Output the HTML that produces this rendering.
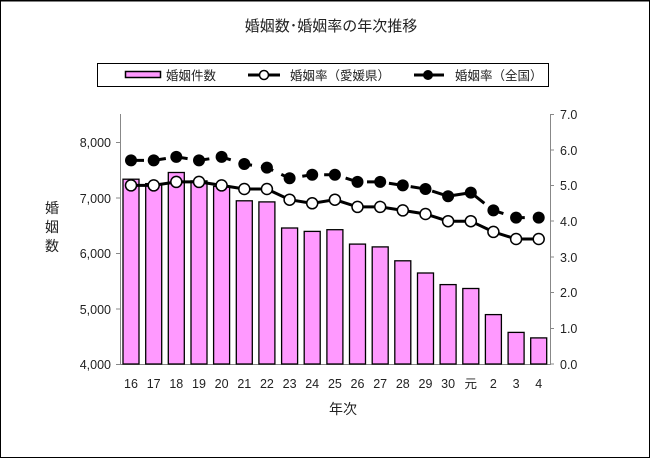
<!DOCTYPE html>
<html><head><meta charset="utf-8"><style>
html,body{margin:0;padding:0;background:#fff}
svg{display:block}
text{font-family:"Liberation Sans","Noto Sans CJK JP",sans-serif;fill:#222}
</style></head><body>
<svg width="650" height="458" viewBox="0 0 650 458" xmlns="http://www.w3.org/2000/svg">
<rect x="0.5" y="0.5" width="649" height="457" fill="#fff" stroke="#000" stroke-width="1"/>
<line x1="0" y1="0.5" x2="650" y2="0.5" stroke="#000" stroke-width="2"/>
<text x="331" y="31" font-size="15" text-anchor="middle">婚姻数･婚姻率の年次推移</text>
<!-- legend -->
<rect x="97.5" y="63.5" width="451" height="23" fill="#fff" stroke="#000"/>
<rect x="125.5" y="71.5" width="35" height="6" fill="#ff99ff" stroke="#000" stroke-width="1.5"/>
<text x="166" y="80" font-size="12.5">婚姻件数</text>
<line x1="248" y1="75" x2="280" y2="75" stroke="#000" stroke-width="3"/>
<circle cx="264" cy="75" r="4.5" fill="#fff" stroke="#000" stroke-width="1.5"/>
<text x="290" y="80" font-size="12.5">婚姻率（愛媛県）</text>
<line x1="414" y1="75" x2="424" y2="75" stroke="#000" stroke-width="3"/>
<line x1="432" y1="75" x2="444" y2="75" stroke="#000" stroke-width="3"/>
<circle cx="428" cy="75" r="5" fill="#000"/>
<text x="455" y="80" font-size="12.5">婚姻率（全国）</text>
<!-- axes -->
<line x1="120.5" y1="114" x2="120.5" y2="364.5" stroke="#888"/>
<line x1="550.5" y1="114" x2="550.5" y2="364.5" stroke="#888"/>
<line x1="120" y1="364.5" x2="551" y2="364.5" stroke="#888"/>
<g stroke="#888">
<line x1="116" y1="142.5" x2="120" y2="142.5"/><line x1="116" y1="198" x2="120" y2="198"/><line x1="116" y1="253.5" x2="120" y2="253.5"/><line x1="116" y1="309" x2="120" y2="309"/><line x1="116" y1="364.5" x2="120" y2="364.5"/>
<line x1="550" y1="114.5" x2="554" y2="114.5"/><line x1="550" y1="150" x2="554" y2="150"/><line x1="550" y1="185.5" x2="554" y2="185.5"/><line x1="550" y1="221" x2="554" y2="221"/><line x1="550" y1="257" x2="554" y2="257"/><line x1="550" y1="292.5" x2="554" y2="292.5"/><line x1="550" y1="328.5" x2="554" y2="328.5"/><line x1="550" y1="364" x2="554" y2="364"/>
</g>
<g font-size="12.5" text-anchor="end">
<text x="111" y="147">8,000</text><text x="111" y="203">7,000</text><text x="111" y="258">6,000</text><text x="111" y="314">5,000</text><text x="111" y="369">4,000</text>
</g>
<g font-size="12.5">
<text x="560" y="119">7.0</text><text x="560" y="155">6.0</text><text x="560" y="190">5.0</text><text x="560" y="226">4.0</text><text x="560" y="262">3.0</text><text x="560" y="297">2.0</text><text x="560" y="333">1.0</text><text x="560" y="369">0.0</text>
</g>
<g font-size="14" text-anchor="middle">
<text x="52" y="213">婚</text><text x="52" y="232">姻</text><text x="52" y="251">数</text>
<text x="343" y="414">年次</text>
</g>
<!-- bars -->
<g fill="#ff99ff" stroke="#000" stroke-width="1.3">
<rect x="123" y="179.2" width="16" height="184.8"/>
<rect x="145.7" y="183.6" width="16" height="180.4"/>
<rect x="168.3" y="172.5" width="16" height="191.5"/>
<rect x="191" y="180.9" width="16" height="183.1"/>
<rect x="213.6" y="186.4" width="16" height="177.6"/>
<rect x="236.3" y="200.8" width="16" height="163.2"/>
<rect x="258.9" y="201.9" width="16" height="162.1"/>
<rect x="281.6" y="228" width="16" height="136"/>
<rect x="304.2" y="231.4" width="16" height="132.6"/>
<rect x="326.9" y="229.7" width="16" height="134.3"/>
<rect x="349.5" y="244.1" width="16" height="119.9"/>
<rect x="372.2" y="246.9" width="16" height="117.1"/>
<rect x="394.8" y="260.8" width="16" height="103.2"/>
<rect x="417.5" y="273" width="16" height="91"/>
<rect x="440.1" y="284.6" width="16" height="79.4"/>
<rect x="462.8" y="288.5" width="16" height="75.5"/>
<rect x="485.4" y="314.6" width="16" height="49.4"/>
<rect x="508.1" y="332.4" width="16" height="31.6"/>
<rect x="530.7" y="337.9" width="16" height="26.1"/>
</g>
<!-- national -->
<polyline fill="none" stroke="#000" stroke-width="3" stroke-dasharray="13,9" points="131,160.4 153.7,160.4 176.3,156.9 199,160.4 221.6,156.9 244.3,164 266.9,167.6 289.6,178.3 312.2,174.7 334.9,174.7 357.5,181.9 380.2,181.9 402.8,185.4 425.5,189 448.1,196.2 470.8,192.6 493.4,210.4 516.1,217.6 538.7,217.6"/>
<g fill="#000">
<circle cx="131" cy="160.4" r="6"/><circle cx="153.7" cy="160.4" r="6"/><circle cx="176.3" cy="156.9" r="6"/><circle cx="199" cy="160.4" r="6"/><circle cx="221.6" cy="156.9" r="6"/><circle cx="244.3" cy="164" r="6"/><circle cx="266.9" cy="167.6" r="6"/><circle cx="289.6" cy="178.3" r="6"/><circle cx="312.2" cy="174.7" r="6"/><circle cx="334.9" cy="174.7" r="6"/><circle cx="357.5" cy="181.9" r="6"/><circle cx="380.2" cy="181.9" r="6"/><circle cx="402.8" cy="185.4" r="6"/><circle cx="425.5" cy="189" r="6"/><circle cx="448.1" cy="196.2" r="6"/><circle cx="470.8" cy="192.6" r="6"/><circle cx="493.4" cy="210.4" r="6"/><circle cx="516.1" cy="217.6" r="6"/><circle cx="538.7" cy="217.6" r="6"/>
</g>
<!-- ehime -->
<polyline fill="none" stroke="#000" stroke-width="3" points="131,185.4 153.7,185.4 176.3,181.9 199,181.9 221.6,185.4 244.3,189 266.9,189 289.6,199.7 312.2,203.3 334.9,199.7 357.5,206.9 380.2,206.9 402.8,210.4 425.5,214 448.1,221.2 470.8,221.2 493.4,231.9 516.1,239 538.7,239"/>
<g fill="#fff" stroke="#000" stroke-width="1.5">
<circle cx="131" cy="185.4" r="5.5"/><circle cx="153.7" cy="185.4" r="5.5"/><circle cx="176.3" cy="181.9" r="5.5"/><circle cx="199" cy="181.9" r="5.5"/><circle cx="221.6" cy="185.4" r="5.5"/><circle cx="244.3" cy="189" r="5.5"/><circle cx="266.9" cy="189" r="5.5"/><circle cx="289.6" cy="199.7" r="5.5"/><circle cx="312.2" cy="203.3" r="5.5"/><circle cx="334.9" cy="199.7" r="5.5"/><circle cx="357.5" cy="206.9" r="5.5"/><circle cx="380.2" cy="206.9" r="5.5"/><circle cx="402.8" cy="210.4" r="5.5"/><circle cx="425.5" cy="214" r="5.5"/><circle cx="448.1" cy="221.2" r="5.5"/><circle cx="470.8" cy="221.2" r="5.5"/><circle cx="493.4" cy="231.9" r="5.5"/><circle cx="516.1" cy="239" r="5.5"/><circle cx="538.7" cy="239" r="5.5"/>
</g>
<g font-size="12.5" text-anchor="middle">
<text x="131" y="388">16</text><text x="153.7" y="388">17</text><text x="176.3" y="388">18</text><text x="199" y="388">19</text><text x="221.6" y="388">20</text><text x="244.3" y="388">21</text><text x="266.9" y="388">22</text><text x="289.6" y="388">23</text><text x="312.2" y="388">24</text><text x="334.9" y="388">25</text><text x="357.5" y="388">26</text><text x="380.2" y="388">27</text><text x="402.8" y="388">28</text><text x="425.5" y="388">29</text><text x="448.1" y="388">30</text><text x="470.8" y="388">元</text><text x="493.4" y="388">2</text><text x="516.1" y="388">3</text><text x="538.7" y="388">4</text>
</g>
</svg>
</body></html>
